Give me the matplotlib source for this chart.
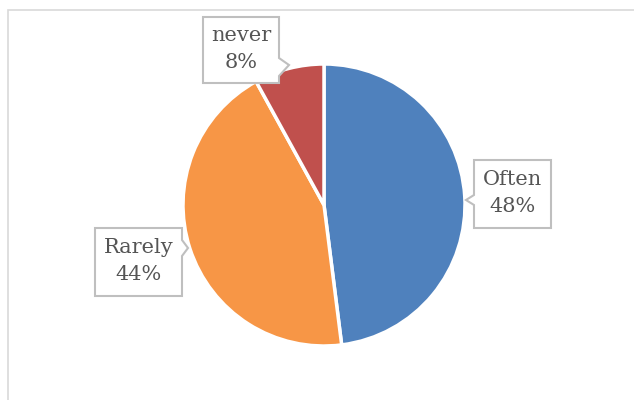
import matplotlib.pyplot as plt
from matplotlib.patches import Polygon, Rectangle

# data
labels = ['Often', 'Rarely', 'never']
values = [48, 44, 8]
colors = ['#4F81BD', '#F79646', '#C0504D']

# callout boxes in pixel coords (top-left origin): box x0, y0, x1, y1 and pointer
callouts = {
    'Often':  dict(box=(474, 160, 551, 228), side='left',  notch=(195, 205), tip=(466, 200)),
    'Rarely': dict(box=(95, 228, 182, 296),  side='right', notch=(240, 256), tip=(188, 248)),
    'never':  dict(box=(203, 17, 279, 83),   side='right', notch=(58, 76),   tip=(289, 65)),
}

W, H = 634, 400
fig = plt.figure(figsize=(W / 100, H / 100), dpi=100)
ax = fig.add_axes([0, 0, 1, 1])
ax.set_xlim(0, W)
ax.set_ylim(0, H)
ax.set_aspect('equal')
ax.axis('off')

def fy(y):
    return H - y

# chart border
ax.add_patch(Rectangle((8, fy(H + 20)), W + 20, H + 10, fill=False,
                       edgecolor='#D9D9D9', linewidth=1.2, zorder=0))

wedges, _ = ax.pie(values, colors=colors, startangle=90, counterclock=False,
                   center=(324, fy(205)), radius=141,
                   wedgeprops=dict(edgecolor='white', linewidth=2.5))
ax.set_xlim(0, W)
ax.set_ylim(0, H)

total = sum(values)
for lab, val in zip(labels, values):
    c = callouts[lab]
    x0, y0, x1, y1 = c['box']
    n0, n1 = c['notch']
    tx, ty = c['tip']
    if c['side'] == 'left':
        pts = [(x0, y0), (x1, y0), (x1, y1), (x0, y1), (x0, n1), (tx, ty), (x0, n0)]
    else:
        pts = [(x0, y0), (x1, y0), (x1, n0), (tx, ty), (x1, n1), (x1, y1), (x0, y1)]
    pts = [(px, fy(py)) for px, py in pts]
    ax.add_patch(Polygon(pts, closed=True, facecolor='white', edgecolor='#BFBFBF',
                         linewidth=1.5, zorder=5))
    pct = round(100 * val / total)
    ax.text((x0 + x1) / 2, fy((y0 + y1) / 2 - 1), f'{lab}\n{pct}%', ha='center', va='center',
            fontsize=15, family='DejaVu Serif', color='#555555', linespacing=1.55, zorder=6)

fig.savefig('out.png', dpi=100)
